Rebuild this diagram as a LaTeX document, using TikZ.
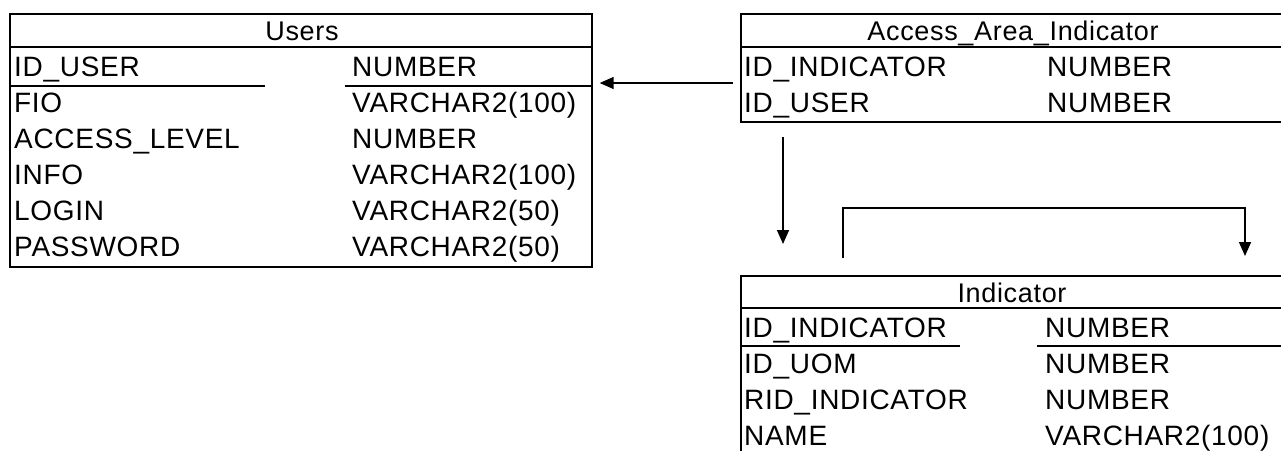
\documentclass[tikz,border=0pt]{standalone}
\usepackage{fontspec}
\setmainfont[LetterSpace=2.5]{Liberation Sans}
\usetikzlibrary{arrows.meta}
\begin{document}
\begin{tikzpicture}[x=1pt,y=-1pt,
  tbl/.style={draw, line width=1.7pt, anchor=north west, inner sep=0pt},
  rule/.style={line width=1.7pt},
  cell/.style={anchor=base west, inner sep=0pt, font=\fontsize{28}{30}\selectfont},
  title/.style={anchor=base, inner sep=0pt, font=\fontsize{27}{30}\selectfont},
  fk/.style={line width=1.5pt, -{Triangle[length=14pt,width=12pt]}}]
\useasboundingbox (0,0) rectangle (1281,450);

% ---- Users ----
\node[tbl, minimum width=582pt, minimum height=253pt] (users) at (9,13) {};
\node[title] (usersT) at (302,40) {Users};
\draw[rule] (9,47) -- (591,47);
\draw[rule] (9,86) -- (265,86);
\draw[rule] (345,86) -- (591,86);
\node[cell] (u1a) at (14,76) {ID\_USER};      \node[cell] (u1b) at (352,76) {NUMBER};
\node[cell] (u2a) at (14,112) {FIO};          \node[cell] (u2b) at (352,112) {VARCHAR2(100)};
\node[cell] (u3a) at (14,148) {ACCESS\_LEVEL}; \node[cell] (u3b) at (352,148) {NUMBER};
\node[cell] (u4a) at (14,184) {INFO};         \node[cell] (u4b) at (352,184) {VARCHAR2(100)};
\node[cell] (u5a) at (14,220) {LOGIN};        \node[cell] (u5b) at (352,220) {VARCHAR2(50)};
\node[cell] (u6a) at (14,256) {PASSWORD};     \node[cell] (u6b) at (352,256) {VARCHAR2(50)};

% ---- Access_Area_Indicator ----
\node[tbl, minimum width=560pt, minimum height=108pt] (area) at (740,13) {};
\node[title] (areaT) at (1013,40) {Access\_Area\_Indicator};
\draw[rule] (740,47) -- (1300,47);
\node[cell] (a1a) at (744,76) {ID\_INDICATOR}; \node[cell] (a1b) at (1047,76) {NUMBER};
\node[cell] (a2a) at (744,112) {ID\_USER};     \node[cell] (a2b) at (1047,112) {NUMBER};

% ---- Indicator ----
\node[tbl, minimum width=560pt, minimum height=200pt] (ind) at (740,275) {};
\node[title] (indT) at (1012,302) {Indicator};
\draw[rule] (740,308) -- (1300,308);
\draw[rule] (740,346) -- (960,346);
\draw[rule] (1037,346) -- (1300,346);
\node[cell] (i1a) at (744,337) {ID\_INDICATOR};  \node[cell] (i1b) at (1045,337) {NUMBER};
\node[cell] (i2a) at (744,373) {ID\_UOM};        \node[cell] (i2b) at (1045,373) {NUMBER};
\node[cell] (i3a) at (744,409) {RID\_INDICATOR}; \node[cell] (i3b) at (1045,409) {NUMBER};
\node[cell] (i4a) at (744,445) {NAME};          \node[cell] (i4b) at (1045,445) {VARCHAR2(100)};

% ---- relations ----
\coordinate (areaOut) at ([xshift=-7pt]area.west |- 0,83);
\coordinate (usersIn) at ([xshift=7pt]users.east |- 0,83);
\draw[fk] (areaOut) -- (usersIn);

\coordinate (areaDown) at (783,137);
\coordinate (indIn) at (783,244);
\draw[fk] (areaDown) -- (indIn);

\coordinate (selfOut) at (843,258);
\coordinate (selfIn) at (1245,256);
\draw[fk] (selfOut) |- (1245,208) -- (selfIn);
\end{tikzpicture}
\end{document}
